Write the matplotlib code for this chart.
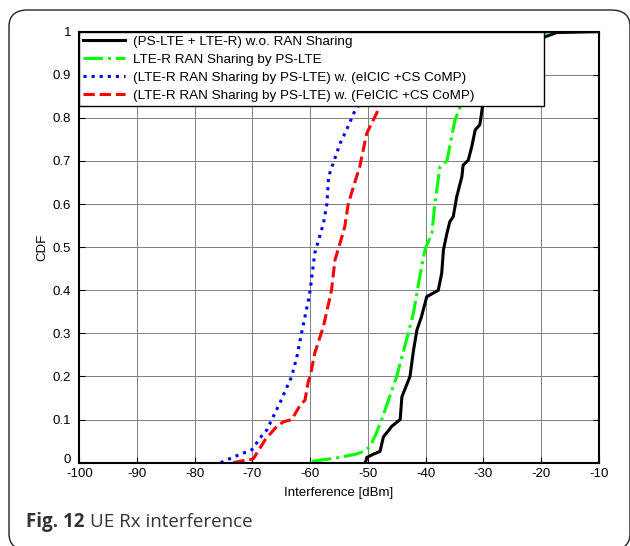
import numpy as np
import matplotlib
matplotlib.use("Agg")
import matplotlib.pyplot as plt
import matplotlib.transforms as mtransforms
from matplotlib.patches import FancyBboxPatch

plt.rcParams['font.family'] = ['Liberation Sans', 'DejaVu Sans']
plt.rcParams['axes.unicode_minus'] = False

# CDF curves (interference in dBm, cumulative probability)
black_x = [-50.5, -50.3, -50.2, -49.0, -47.9, -47.3, -46.1, -45.9, -44.4, -44.1,
           -42.7, -42.1, -41.5, -40.7, -39.8, -37.8, -37.2, -36.9, -36.3, -35.8,
           -35.2, -34.6, -33.7, -33.5, -32.6, -32.0, -31.4, -30.6, -30.3, -30.0,
           -28.0, -24.0, -19.3, -17.3, -10.0]
black_y = [0.0, 0.005, 0.012, 0.02, 0.026, 0.06, 0.08, 0.084, 0.10, 0.153,
           0.20, 0.26, 0.308, 0.339, 0.385, 0.40, 0.44, 0.494, 0.532, 0.559,
           0.571, 0.617, 0.664, 0.69, 0.702, 0.733, 0.772, 0.784, 0.81, 0.842,
           0.92, 0.97, 0.988, 0.998, 1.0]

green_x = [-59.7, -55.0, -52.0, -50.8, -49.6, -48.5, -47.6, -45.0, -43.8, -43.0,
           -42.1, -41.0, -40.1, -38.9, -38.4, -37.5, -36.3, -34.9, -34.0, -30.0,
           -25.0, -18.7]
green_y = [0.003, 0.012, 0.02, 0.026, 0.037, 0.07, 0.10, 0.20, 0.26, 0.30,
           0.347, 0.432, 0.494, 0.532, 0.60, 0.687, 0.70, 0.795, 0.826, 0.92,
           0.97, 1.0]

blue_x = [-75.5, -73.5, -71.6, -70.1, -68.1, -67.5, -65.2, -63.2, -62.3, -61.5,
          -60.3, -60.0, -59.2, -57.7, -57.1, -56.8, -55.4, -54.8, -53.7, -52.2,
          -51.5, -50.0, -47.0, -44.0]
blue_y = [0.0, 0.012, 0.022, 0.03, 0.068, 0.076, 0.14, 0.20, 0.246, 0.30,
          0.377, 0.40, 0.486, 0.555, 0.60, 0.664, 0.718, 0.741, 0.772, 0.818,
          0.83, 0.88, 0.96, 1.0]

red_x = [-73.3, -71.5, -70.1, -69.8, -67.8, -65.8, -64.6, -63.2, -61.7, -60.9,
         -60.3, -60.0, -59.2, -57.7, -56.3, -55.7, -54.5, -54.0, -53.4, -52.5,
         -51.4, -50.8, -50.2, -48.5, -48.0, -45.0, -42.0]
red_y = [0.0, 0.005, 0.008, 0.01, 0.053, 0.084, 0.095, 0.10, 0.134, 0.145,
         0.19, 0.20, 0.254, 0.316, 0.40, 0.47, 0.524, 0.548, 0.60, 0.64,
         0.687, 0.726, 0.764, 0.81, 0.83, 0.93, 1.0]

labels = ["(PS-LTE + LTE-R) w.o. RAN Sharing",
          "LTE-R RAN Sharing by PS-LTE",
          "(LTE-R RAN Sharing by PS-LTE) w. (eICIC +CS CoMP)",
          "(LTE-R RAN Sharing by PS-LTE) w. (FeICIC +CS CoMP)"]

fig = plt.figure(figsize=(6.3, 5.46), dpi=100)
ax = fig.add_axes([0.1259, 0.1526, 0.8244, 0.7894])

ax.plot(black_x, black_y, color='k', lw=2.2, ls='-', label=labels[0])
ax.plot(green_x, green_y, color='#00ff00', lw=2.2, ls='-.', label=labels[1])
ax.plot(blue_x, blue_y, color='#0000ff', lw=2.2, ls=':', label=labels[2])
ax.plot(red_x, red_y, color='#ff0000', lw=2.2, ls='--', label=labels[3])

ax.set_xlim(-100, -10)
ax.set_ylim(0, 1)
ax.set_xticks(np.arange(-100, -9, 10))
ax.set_yticks(np.arange(0, 1.01, 0.1))
ax.set_yticklabels(['0', '0.1', '0.2', '0.3', '0.4', '0.5', '0.6', '0.7', '0.8', '0.9', '1'])
ax.grid(True, color='0.5', lw=0.7)
ax.tick_params(direction='in', length=4, width=0.8, labelsize=9.5,
               top=True, right=True)
ax.tick_params(axis='x', pad=4)
ax.tick_params(axis='y', pad=6)
for s in ax.spines.values():
    s.set_linewidth(1.5)

# lift the "0" a little so it sits just above "-100"
zero_lbl = ax.get_yticklabels()[0]
zero_lbl.set_transform(zero_lbl.get_transform() +
                       mtransforms.ScaledTranslation(0, 4 / 100, fig.dpi_scale_trans))

ax.set_xlabel("Interference [dBm]", fontsize=9.5, labelpad=5)
ax.set_ylabel("CDF", fontsize=9.5, labelpad=3)

leg = ax.legend(loc='upper left', bbox_to_anchor=(0, 0, 0.895, 1), mode='expand',
                borderaxespad=0, fontsize=9.7, handlelength=3.1,
                handletextpad=0.6, labelspacing=0.4, fancybox=False,
                framealpha=1, edgecolor='k', borderpad=0.3)
leg.get_frame().set_linewidth(1.0)

# caption and rounded frame
fig.text(26 / 630, 1 - 527 / 546, "Fig. 12", fontsize=13.5, fontweight='bold',
         color='#333333', family=['Open Sans', 'DejaVu Sans'], va='baseline')
fig.text(90 / 630, 1 - 527 / 546, "UE Rx interference", fontsize=13.5,
         color='#333333', family=['Open Sans', 'DejaVu Sans'], va='baseline')
box = FancyBboxPatch((9 / 630, -4 / 546), 621 / 630, 540 / 546,
                     boxstyle="round,pad=0,rounding_size=0.03",
                     transform=fig.transFigure, fill=False,
                     edgecolor='#222222', lw=1.0, clip_on=False)
fig.patches.append(box)

fig.savefig("out.png", dpi=100)
